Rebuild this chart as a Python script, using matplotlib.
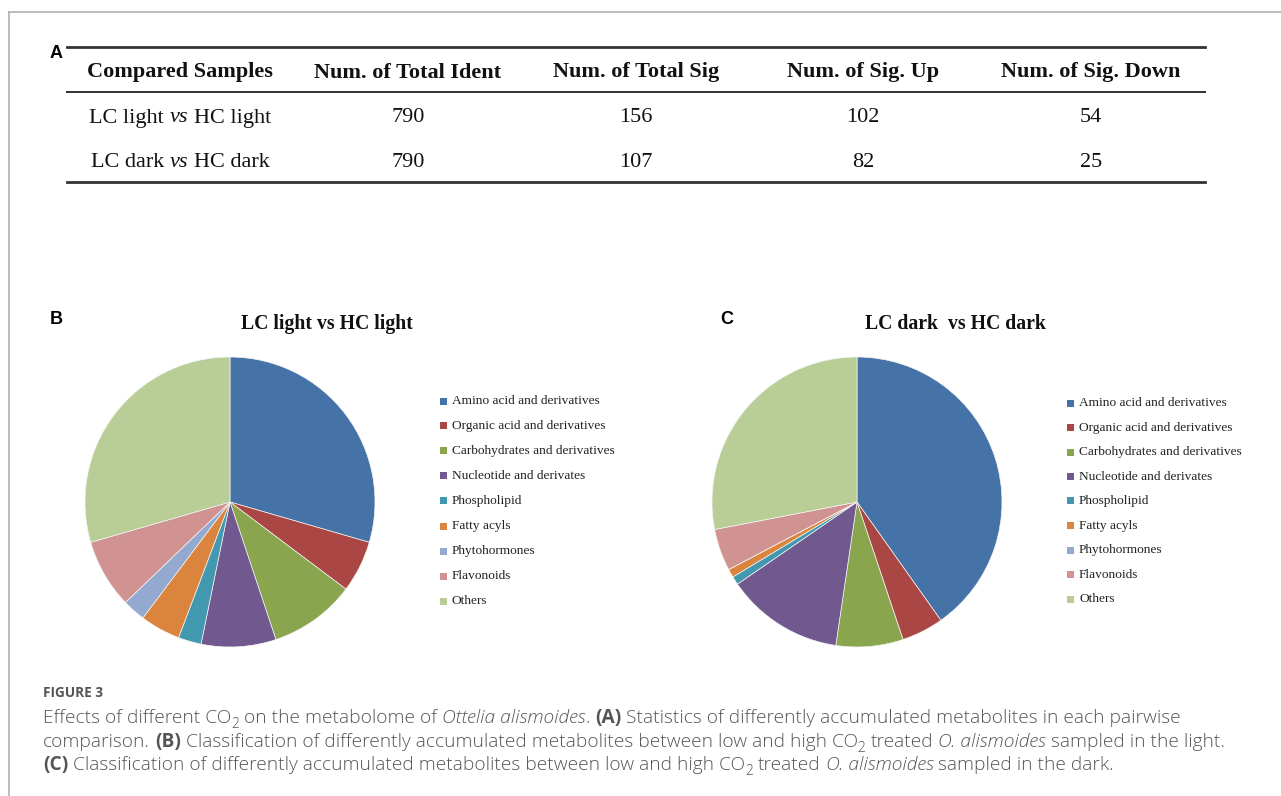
#!/usr/bin/env python3
"""Figure 3: metabolome statistics table plus two class-composition pies."""

import matplotlib
matplotlib.use("Agg")
import matplotlib.pyplot as plt
from matplotlib.lines import Line2D
from matplotlib.patches import Rectangle

W, H = 1281, 796

# ---- panel A table ----
HEADERS = ["Compared Samples", "Num. of Total Ident", "Num. of Total Sig",
           "Num. of Sig. Up", "Num. of Sig. Down"]
ROW_LABELS = [("LC light", "HC light"), ("LC dark", "HC dark")]
TOTAL_IDENT = [790, 790]
TOTAL_SIG = [156, 107]
SIG_UP = [102, 82]
SIG_DOWN = [54, 25]

# ---- panels B / C pies (counts of significant metabolites per class) ----
CLASSES = ["Amino acid and derivatives", "Organic acid and derivatives",
           "Carbohydrates and derivatives", "Nucleotide and derivates",
           "Phospholipid", "Fatty acyls", "Phytohormones", "Flavonoids", "Others"]
LIGHT_COUNTS = [46, 9, 15, 13, 4, 7, 4, 12, 46]
DARK_COUNTS = [43, 5, 8, 14, 1, 1, 0, 5, 30]
COLORS = ["#4572A7", "#AA4643", "#89A54E", "#71588F", "#4198AF",
          "#DB843D", "#93A9CF", "#D19392", "#B9CD96"]

SERIF = "Liberation Serif"
SANS = "Liberation Sans"
CAP = "Open Sans"


def fx(x):
    return x / W


def fy(y):
    return 1 - y / H


fig = plt.figure(figsize=(W / 100, H / 100), dpi=100)
renderer = fig.canvas.get_renderer()


def text_width(s, **kw):
    t = fig.text(0, 0, s, **kw)
    w = t.get_window_extent(renderer).width
    t.remove()
    return w


def layout_runs(runs, size, family, weight="normal"):
    """Split styled runs into (advance, text, kwargs, dy, width); returns items, total px."""
    space = (text_width("x x", size=size, family=family, weight=weight)
             - text_width("xx", size=size, family=family, weight=weight))
    items = []
    total = 0.0
    for s, st in runs:
        lead = len(s) - len(s.lstrip(" "))
        s = s.strip(" ")
        kw = dict(family=family, size=size, weight=weight)
        dy = 0
        if st == "i":
            kw["style"] = "italic"
        elif st == "b":
            kw["weight"] = "bold"
        elif st == "sub":
            kw["size"] = size * 0.72
            dy = -size * 0.26 * 100 / 72
        w = text_width(s, **kw)
        items.append((lead * space, s, kw, dy, w))
        total += lead * space + w
    return items, total


def draw_runs(x, y, runs, size, color, family, ha="left", weight="normal"):
    items, total = layout_runs(runs, size, family, weight)
    cx = x * W - (total / 2 if ha == "center" else 0)
    for adv, s, kw, dy, w in items:
        cx += adv
        fig.text(cx / W, y + dy / H, s, va="baseline", ha="left", color=color, **kw)
        cx += w


# frame
fig.add_artist(Line2D([fx(9), 1], [fy(12), fy(12)], color="#b0b0b0", lw=1.2))
fig.add_artist(Line2D([fx(9), fx(9)], [fy(12), 0], color="#b0b0b0", lw=1.2))

# ---- panel A ----
fig.text(fx(50), fy(54), "A", family=SANS, weight="bold", size=13, va="center")
col_x = [180, 408, 636, 863, 1091]
for y, lw in [(47, 2.0), (92, 1.4), (182, 2.0)]:
    fig.add_artist(Line2D([fx(67), fx(1205)], [fy(y), fy(y)], color="#333333", lw=lw))
for cx, h in zip(col_x, HEADERS):
    fig.text(fx(cx), fy(77.5), h, family=SERIF, weight="bold", size=16,
             ha="center", va="baseline", color="#111111")
row_base = [122.5, 167]
for i, (a, b) in enumerate(ROW_LABELS):
    draw_runs(fx(col_x[0]), fy(row_base[i]), [(a, ""), (" vs", "i"), (" " + b, "")],
              16, "#111111", SERIF, ha="center")
    vals = [TOTAL_IDENT[i], TOTAL_SIG[i], SIG_UP[i], SIG_DOWN[i]]
    for cx, v in zip(col_x[1:], vals):
        fig.text(fx(cx), fy(row_base[i]), str(v), family=SERIF, size=16,
                 ha="center", va="baseline", color="#111111")

# ---- panels B and C ----
panels = [
    ("B", 50, 230, "LC light vs HC light", 327, LIGHT_COUNTS, 443),
    ("C", 720, 857, "LC dark  vs HC dark", 955, DARK_COUNTS, 1070),
]
r = 145
for lab, lab_x, cx, title, title_x, counts, leg_x in panels:
    fig.text(fx(lab_x), fy(320), lab, family=SANS, weight="bold", size=13, va="center")
    fig.text(fx(title_x), fy(324), title, family=SERIF, weight="bold", size=14.2,
             ha="center", va="center", color="#111111")
    ax = fig.add_axes([fx(cx - r), fy(502 + r), (2 * r) / W, (2 * r) / H])
    ax.pie(counts, colors=COLORS, startangle=90, counterclock=False,
           wedgeprops=dict(edgecolor="#f4f4f4", linewidth=0.5))
    ax.set_xlim(-1, 1)
    ax.set_ylim(-1, 1)
    ax.set_aspect("equal")
    ax.axis("off")
    y0, step = (401, 25) if lab == "B" else (403, 24.5)
    for k, (name, col) in enumerate(zip(CLASSES, COLORS)):
        yy = y0 + k * step
        fig.add_artist(Rectangle((fx(leg_x - 3.5), fy(yy + 3.5)), 7 / W, 7 / H,
                                 transform=fig.transFigure, color=col, lw=0))
        fig.text(fx(leg_x + 9), fy(yy), name, family=SERIF, size=9.6,
                 va="center", ha="left", color="#222222")

# ---- caption ----
cap_col = "#555555"
lines = [
    [("Effects of different CO", ""), ("2", "sub"), (" on the metabolome of", ""),
     (" Ottelia alismoides", "i"), (".", ""), (" (A)", "b"),
     (" Statistics of differently accumulated metabolites in each pairwise", "")],
    [("comparison.", ""), (" (B)", "b"),
     (" Classification of differently accumulated metabolites between low and high CO", ""),
     ("2", "sub"), (" treated", ""), (" O. alismoides", "i"), (" sampled in the light.", "")],
    [("(C)", "b"),
     (" Classification of differently accumulated metabolites between low and high CO", ""),
     ("2", "sub"), (" treated", ""), (" O. alismoides", "i"), (" sampled in the dark.", "")],
]
# first caption line runs from x=43 to x=1183 in the original layout
_, w_test = layout_runs(lines[0], 12, CAP, weight="light")
cap_size = 12 * (1180 - 43) / w_test
fig.text(fx(43), fy(697), "FIGURE 3", family=CAP, weight="bold", size=9.8,
         color=cap_col, va="baseline")
for i, runs in enumerate(lines):
    draw_runs(fx(43), fy(723 + 23.7 * i), runs, cap_size, cap_col, CAP, weight="light")

fig.savefig("out.png", dpi=100, facecolor="white")
